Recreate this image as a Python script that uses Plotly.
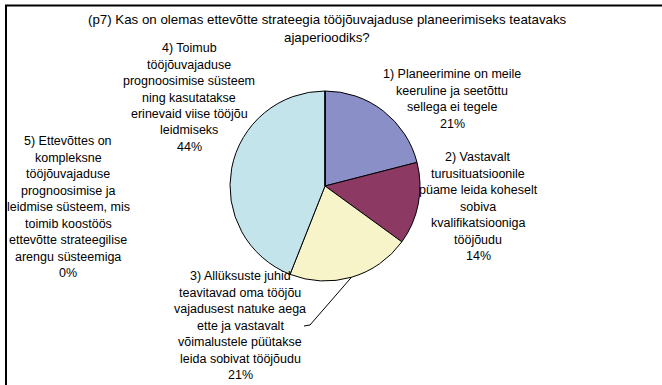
import math
import plotly.graph_objects as go

W, H = 662, 385

# Survey answers (shares in %)
answers = [
    "1) Planeerimine on meile keeruline ja seetõttu sellega ei tegele",
    "2) Vastavalt turusituatsioonile püame leida koheselt sobiva kvalifikatsiooniga tööjõudu",
    "3) Allüksuste juhid teavitavad oma tööjõu vajadusest natuke aega ette ja vastavalt võimalustele püütakse leida sobivat tööjõudu",
    "4) Toimub tööjõuvajaduse prognoosimise süsteem ning kasutatakse erinevaid viise tööjõu leidmiseks",
    "5) Ettevõttes on kompleksne tööjõuvajaduse prognoosimise ja leidmise süsteem, mis toimib koostöös ettevõtte strateegilise arengu süsteemiga",
]
shares = [21, 14, 21, 44, 0]

# Wrapped label lines for each answer
label_lines = [
    ["1) Planeerimine on meile", "keeruline ja seetõttu", "sellega ei tegele"],
    ["2) Vastavalt", "turusituatsioonile", "püame leida koheselt", "sobiva",
     "kvalifikatsiooniga", "tööjõudu"],
    ["3) Allüksuste juhid", "teavitavad oma tööjõu", "vajadusest natuke aega",
     "ette ja vastavalt", "võimalustele püütakse", "leida sobivat tööjõudu"],
    ["4) Toimub", "tööjõuvajaduse", "prognoosimise süsteem", "ning kasutatakse",
     "erinevaid viise tööjõu", "leidmiseks"],
    ["5) Ettevõttes on", "kompleksne", "tööjõuvajaduse", "prognoosimise ja",
     "leidmise süsteem, mis", "toimib koostöös", "ettevõtte strateegilise",
     "arengu süsteemiga"],
]
title_lines = ["(p7) Kas on olemas ettevõtte strateegia tööjõuvajaduse planeerimiseks teatavaks",
               "ajaperioodiks?"]

slice_colors = ["#8B8FC8", "#8C3A64", "#F7F4C9", "#C4E4EC", "#660066"]

FONT = "Liberation Sans, Arial, sans-serif"

# pie geometry in pixels
cx, cy, r = 325, 186, 95

def px(x):
    return x / W

def py(y):
    return 1 - y / H

fig = go.Figure()
fig.add_trace(go.Pie(
    labels=answers,
    values=shares,
    sort=False,
    direction="clockwise",
    rotation=0,
    textinfo="none",
    hoverinfo="label+percent",
    marker=dict(colors=slice_colors, line=dict(color="black", width=1)),
    domain=dict(x=[px(cx - r), px(cx + r)], y=[py(cy + r), py(cy - r)]),
    showlegend=False,
))

annotations = []
# title
for i, t in enumerate(title_lines):
    annotations.append(dict(text=t, x=px(327), y=py(19 + i * 18), xref="paper", yref="paper",
                            showarrow=False, xanchor="center", yanchor="middle",
                            font=dict(family=FONT, size=13.3, color="black")))

# label anchors: center x, first line y (px)
label_pos = [(452, 74), (478, 157), (240, 276), (189, 48), (68, 141)]
step = 16.5
for lines, v, (lx, ly) in zip(label_lines, shares, label_pos):
    for i, t in enumerate(lines + [f"{v}%"]):
        annotations.append(dict(text=t, x=px(lx), y=py(ly + i * step), xref="paper", yref="paper",
                                showarrow=False, xanchor="center", yanchor="middle",
                                font=dict(family=FONT, size=12.5, color="black")))

# leader line for the third slice, starting from its mid-angle on the rim
total = sum(shares)
start = sum(shares[:2]) / total
mid = (start + shares[2] / total / 2) * 2 * math.pi
ex, ey = cx + r * math.sin(mid), cy - r * math.cos(mid)
shapes = [
    dict(type="path", xref="paper", yref="paper",
         path=f"M {px(ex)} {py(ey)} L {px(310)} {py(325)} L {px(304)} {py(326)}",
         line=dict(color="black", width=1)),
    # chart frame
    dict(type="rect", xref="paper", yref="paper",
         x0=px(6), y0=py(400), x1=px(680), y1=py(5.5),
         line=dict(color="black", width=2)),
]

fig.update_layout(
    width=W, height=H,
    margin=dict(l=0, r=0, t=0, b=0),
    paper_bgcolor="white", plot_bgcolor="white",
    annotations=annotations,
    shapes=shapes,
)

fig.write_html("out.html")
